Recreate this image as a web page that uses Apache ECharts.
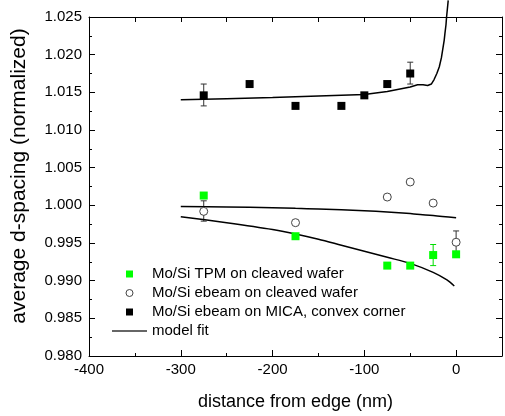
<!DOCTYPE html>
<html>
<head>
<meta charset="utf-8">
<script src="https://cdn.jsdelivr.net/npm/echarts@6/dist/echarts.min.js"></script>
<style>
html,body{margin:0;padding:0;background:#fff;}
#chart{width:505px;height:416px;}
</style>
</head>
<body>
<div id="chart"></div>
<script>
// ---- Data ----
const tpmX   = [-275, -175, -75, -50, -25, 0];
const tpmY   = [1.0013, 0.9959, 0.9920, 0.9920, 0.9934, 0.9935];
const tpmErrX  = [-25];
const tpmErrLo = [0.9920];
const tpmErrHi = [0.9948];

const ebeamX = [-275, -175, -75, -50, -25, 0];
const ebeamY = [0.9992, 0.9977, 1.0011, 1.0031, 1.0003, 0.9951];
const ebeamErrX  = [-275, 0];
const ebeamErrLo = [0.9979, 0.9933];
const ebeamErrHi = [1.0006, 0.9966];

const micaX = [-275, -225, -175, -125, -100, -75, -50];
const micaY = [1.0146, 1.0161, 1.0132, 1.0132, 1.0146, 1.0161, 1.0175];
const micaErrX  = [-275, -50];
const micaErrLo = [1.0132, 1.0161];
const micaErrHi = [1.0161, 1.0190];

const fitMicaX = [-300, -250, -200, -150, -100, -75, -50, -42, -36, -31, -27, -24, -21, -18.3, -16, -14.7, -13, -12.2, -11, -10.4, -9.5, -8.6];
const fitMicaY = [1.0140, 1.01415, 1.0143, 1.0145, 1.0147, 1.0151, 1.0157, 1.0160, 1.0160, 1.0159, 1.0161, 1.0167, 1.0175, 1.0184, 1.0196, 1.0206, 1.0219, 1.0228, 1.0240, 1.0250, 1.0261, 1.0272];
const fitUpperX = [-300, -250, -200, -175, -150, -100, -75, -50, -25, 0];
const fitUpperY = [0.99985, 0.99978, 0.99968, 0.9996, 0.99952, 0.99928, 0.99912, 0.9989, 0.99866, 0.99835];
const fitLowerX = [-300, -250, -200, -175, -150, -125, -100, -75, -50, -25, -10, -2];
const fitLowerY = [0.9985, 0.9977, 0.9968, 0.9962, 0.9955, 0.9947, 0.9939, 0.9931, 0.9923, 0.9911, 0.9901, 0.9893];

const xTicks = [-400, -300, -200, -100, 0];
const yTicks = [0.980, 0.985, 0.990, 0.995, 1.000, 1.005, 1.010, 1.015, 1.020, 1.025];

const names = ['Mo/Si TPM on cleaved wafer', 'Mo/Si ebeam on cleaved wafer', 'Mo/Si ebeam on MICA, convex corner', 'model fit'];
const yLabel = 'average d-spacing (normalized)';
const xLabel = 'distance from edge (nm)';

// ---- Helpers ----
const zip = (xs, ys) => xs.map((x, i) => [x, ys[i]]);
const zip3 = (xs, a, b) => xs.map((x, i) => [x, a[i], b[i]]);
const FONT = "'Liberation Sans', Arial, Helvetica, sans-serif";

function errRenderer(color) {
  return function (params, api) {
    const x = api.value(0), lo = api.value(1), hi = api.value(2);
    const p1 = api.coord([x, lo]), p2 = api.coord([x, hi]);
    const hw = 3;
    const st = { stroke: color, lineWidth: 1 };
    return {
      type: 'group',
      children: [
        { type: 'line', shape: { x1: p1[0], y1: p1[1], x2: p2[0], y2: p2[1] }, style: st },
        { type: 'line', shape: { x1: p1[0] - hw, y1: p1[1], x2: p1[0] + hw, y2: p1[1] }, style: st },
        { type: 'line', shape: { x1: p2[0] - hw, y1: p2[1], x2: p2[0] + hw, y2: p2[1] }, style: st }
      ]
    };
  };
}

const chart = echarts.init(document.getElementById('chart'), null, { renderer: 'canvas' });

const axisLineStyle = { color: '#000', width: 1 };

const option = {
  animation: false,
  backgroundColor: '#fff',
  textStyle: { fontFamily: FONT },
  grid: { left: 89, top: 17, width: 419.5, height: 340, containLabel: false },
  xAxis: [
    {
      type: 'value', min: -400, max: 50, interval: 100, position: 'bottom',
      axisLine: { show: true, onZero: false, lineStyle: axisLineStyle },
      axisTick: { show: true, inside: true, length: 6, lineStyle: axisLineStyle },
      minorTick: { show: true, splitNumber: 2, length: 3, lineStyle: axisLineStyle },
      axisLabel: {
        show: true, margin: 6, fontSize: 15, color: '#000', fontFamily: FONT,
        formatter: v => (xTicks.indexOf(v) >= 0 ? String(v) : '')
      },
      splitLine: { show: false },
      name: xLabel, nameLocation: 'middle', nameGap: 37,
      nameTextStyle: { fontSize: 18, color: '#000', fontFamily: FONT }
    },
    {
      type: 'value', min: -400, max: 50, interval: 50, position: 'top',
      axisLine: { show: true, onZero: false, lineStyle: axisLineStyle },
      axisTick: { show: true, inside: true, length: 5, lineStyle: axisLineStyle },
      axisLabel: { show: false },
      splitLine: { show: false }
    }
  ],
  yAxis: [
    {
      type: 'value', min: 0.980, max: 1.025, interval: 0.005, position: 'left',
      axisLine: { show: true, onZero: false, lineStyle: axisLineStyle },
      axisTick: { show: true, inside: true, length: 6, lineStyle: axisLineStyle },
      minorTick: { show: true, splitNumber: 2, length: 3, lineStyle: axisLineStyle },
      axisLabel: {
        show: true, margin: 7, fontSize: 15, color: '#000', fontFamily: FONT,
        formatter: v => {
          const m = yTicks.find(t => Math.abs(t - v) < 1e-9);
          return m !== undefined ? m.toFixed(3) : '';
        }
      },
      splitLine: { show: false }
    },
    {
      type: 'value', min: 0.980, max: 1.025, interval: 0.005, position: 'right',
      axisLine: { show: true, onZero: false, lineStyle: axisLineStyle },
      axisTick: { show: true, inside: true, length: 6, lineStyle: axisLineStyle },
      minorTick: { show: true, splitNumber: 2, length: 3, lineStyle: axisLineStyle },
      axisLabel: { show: false },
      splitLine: { show: false }
    }
  ],
  legend: {
    orient: 'vertical', left: 112, top: 266, padding: 0,
    itemWidth: 35, itemHeight: 7, itemGap: 3,
    textStyle: { fontSize: 15, color: '#000', fontFamily: FONT, lineHeight: 16 },
    selectedMode: false,
    data: [
      { name: names[0], icon: 'path://M0,0H10V10H0Z' },
      { name: names[1], icon: 'circle', itemStyle: { color: '#fff', borderColor: '#444', borderWidth: 1 } },
      { name: names[2], icon: 'path://M0,0H10V10H0Z' },
      { name: names[3], icon: 'path://M0,0H70V3H0Z', itemStyle: { color: '#333' } }
    ]
  },
  graphic: [
    {
      type: 'text', x: 19, y: 176, rotation: Math.PI / 2,
      style: { text: yLabel, font: "21px 'Liberation Sans', Arial, sans-serif", fill: '#000', textAlign: 'center', textVerticalAlign: 'middle' }
    }
  ],
  series: [
    {
      name: 'errMica', type: 'custom', renderItem: errRenderer('#333'),
      data: zip3(micaErrX, micaErrLo, micaErrHi).concat(zip3(ebeamErrX, ebeamErrLo, ebeamErrHi)),
      encode: { x: 0, y: [1, 2] }, z: 1, silent: true
    },
    {
      name: 'errTpm', type: 'custom', renderItem: errRenderer('#00dd00'),
      data: zip3(tpmErrX, tpmErrLo, tpmErrHi),
      encode: { x: 0, y: [1, 2] }, z: 1, silent: true
    },
    {
      name: names[3], type: 'line', data: zip(fitMicaX, fitMicaY), symbol: 'none', showSymbol: false,
      clip: false, smooth: false, lineStyle: { color: '#000', width: 1.5 }, itemStyle: { color: '#000' }, z: 2
    },
    {
      name: names[3], type: 'line', data: zip(fitUpperX, fitUpperY), symbol: 'none', showSymbol: false,
      smooth: 0.3, lineStyle: { color: '#000', width: 1.5 }, itemStyle: { color: '#000' }, z: 2
    },
    {
      name: names[3], type: 'line', data: zip(fitLowerX, fitLowerY), symbol: 'none', showSymbol: false,
      smooth: 0.3, lineStyle: { color: '#000', width: 1.5 }, itemStyle: { color: '#000' }, z: 2
    },
    {
      name: names[0], type: 'scatter', data: zip(tpmX, tpmY), symbol: 'rect', symbolSize: 8,
      itemStyle: { color: '#00ff00', opacity: 1 }, z: 3
    },
    {
      name: names[1], type: 'scatter', data: zip(ebeamX, ebeamY), symbol: 'circle', symbolSize: 8,
      itemStyle: { color: '#fff', borderColor: '#444', borderWidth: 1, opacity: 1 }, z: 3
    },
    {
      name: names[2], type: 'scatter', data: zip(micaX, micaY), symbol: 'rect', symbolSize: 8,
      itemStyle: { color: '#000', opacity: 1 }, z: 3
    }
  ]
};

chart.setOption(option);
</script>
</body>
</html>
